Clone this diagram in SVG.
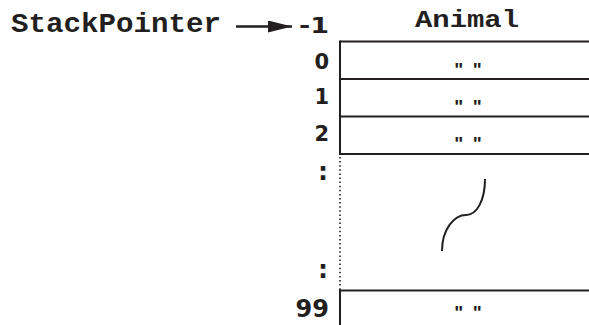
<svg xmlns="http://www.w3.org/2000/svg" width="589" height="325" viewBox="0 0 589 325">
<style>
.mono{font-family:"Liberation Mono","Courier New",monospace;font-weight:bold;fill:#231f20}
.idx{font-family:"DejaVu Sans",Verdana,sans-serif;font-weight:bold;fill:#231f20;text-anchor:end}
.q{font-family:"Liberation Sans",Arial,sans-serif;font-weight:bold;font-size:19px;letter-spacing:2px;fill:#231f20;text-anchor:middle}
.ln{stroke:#231f20;stroke-width:2;fill:none}
</style>
<defs>
<marker id="ah" markerWidth="24" markerHeight="12" refX="24" refY="6" orient="auto" markerUnits="userSpaceOnUse">
<path d="M0,0 L24,6 L0,12 Z" fill="#231f20"/>
</marker>
</defs>
<g id="title">
<text class="mono" x="11" y="32" font-size="27" textLength="210" lengthAdjust="spacingAndGlyphs">StackPointer</text>
<text class="mono" x="415" y="27" font-size="24" textLength="104" lengthAdjust="spacingAndGlyphs">Animal</text>
</g>
<g id="connectors">
<line x1="236" y1="26.5" x2="292" y2="26.5" stroke="#231f20" stroke-width="2.4" marker-end="url(#ah)"/>
</g>
<g id="indices">
<text class="idx" x="329" y="33" font-size="21" textLength="30" lengthAdjust="spacingAndGlyphs">-1</text>
<text class="idx" x="329" y="69" font-size="21">0</text>
<text class="idx" x="329" y="104" font-size="21">1</text>
<text class="idx" x="329" y="141" font-size="21">2</text>
<text class="idx" x="328" y="180" font-size="25">:</text>
<text class="idx" x="328" y="278" font-size="25">:</text>
<text class="idx" x="329" y="317" font-size="24">99</text>
</g>
<g id="stack">
<line class="ln" x1="340" y1="41.5" x2="589" y2="41.5"/>
<line class="ln" x1="340" y1="79" x2="589" y2="79"/>
<line class="ln" x1="340" y1="116.5" x2="589" y2="116.5"/>
<line class="ln" x1="340" y1="154" x2="589" y2="154"/>
<line class="ln" x1="340" y1="40.5" x2="340" y2="155"/>
<line x1="340" y1="157" x2="340" y2="290" stroke="#231f20" stroke-width="1.6" stroke-dasharray="1.5 2.6"/>
<line class="ln" x1="339" y1="290.5" x2="589" y2="290.5"/>
<line class="ln" x1="340" y1="289.5" x2="340" y2="325"/>
<path class="ln" d="M485,179 C485,200 477,215 466,215 C455,215 442,228 442,251" stroke-width="1.8"/>
</g>
<g id="cells">
<text class="q" x="469" y="76">" "</text>
<text class="q" x="469" y="113">" "</text>
<text class="q" x="469" y="150">" "</text>
<text class="q" x="469" y="319">" "</text>
</g>
</svg>
